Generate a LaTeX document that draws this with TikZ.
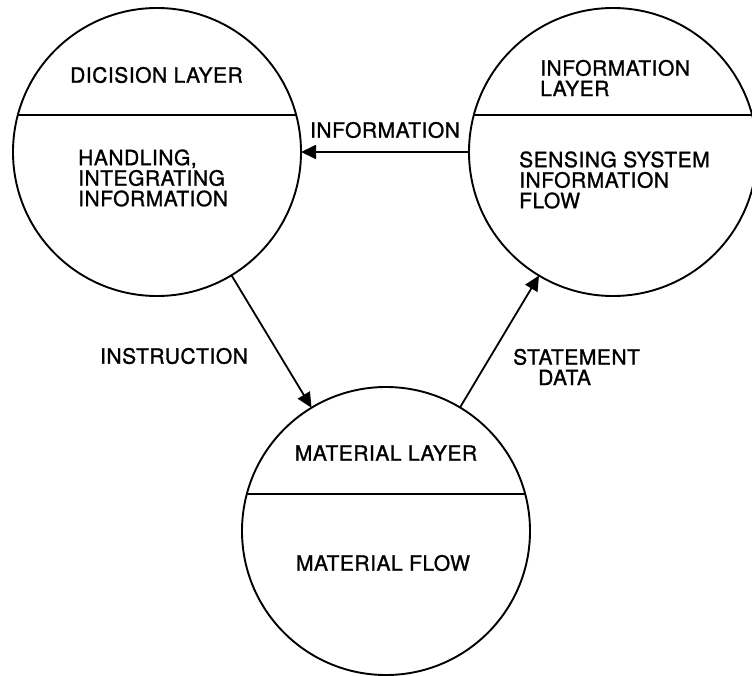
\documentclass[tikz,border=0pt]{standalone}
\usepackage{fontspec}
\setmainfont{TeX Gyre Heros}[LetterSpace=2.5,FakeBold=1.2]
\usetikzlibrary{arrows.meta}
\begin{document}
\begin{tikzpicture}[x=1pt,y=-1pt,
  layer/.style={draw,circle,line width=1.9pt,minimum size=288pt,inner sep=0pt,outer sep=0pt},
  divider/.style={line width=1.9pt},
  flow/.style={line width=1.8pt,-{Triangle[length=15pt,width=14pt]}},
  lbl/.style={font=\fontsize{21}{20.5}\selectfont,inner sep=0pt,align=left},
]
\useasboundingbox[fill=white] (0,0) rectangle (752,675);

% the three layers
\node[layer] (L) at (157,152) {};
\node[layer] (R) at (613,152) {};
\node[layer] (B) at (386,531) {};

% dividing lines between layer title and content
\draw[divider] (L.15) -- (L.165);
\draw[divider] (R.15) -- (R.165);
\draw[divider] (B.15) -- (B.165);

% texts inside the layers
\node[lbl,anchor=west] (ltitle) at (70,75) {DICISION LAYER};
\node[lbl,anchor=west] (lbody) at (78,178) {HANDLING,\\INTEGRATING\\INFORMATION};
\node[lbl,anchor=west] (rtitle) at (540,78) {INFORMATION\\LAYER};
\node[lbl,anchor=west] (rbody) at (519,180) {SENSING SYSTEM\\INFORMATION\\FLOW};
\node[lbl] (btitle) at (386,453) {MATERIAL LAYER};
\node[lbl] (bbody) at (383,563) {MATERIAL FLOW};

% flows between the layers
\draw[flow] (R) -- (L);
\draw[flow] (L) -- (B);
\draw[flow] (B) -- (R);

% flow labels
\node[lbl] (info) at (385,130) {INFORMATION};
\node[lbl] (instr) at (174,356) {INSTRUCTION};
\node[lbl,anchor=west] (stat) at (513,367) {STATEMENT\\\hspace*{25pt}DATA};
\end{tikzpicture}
\end{document}
